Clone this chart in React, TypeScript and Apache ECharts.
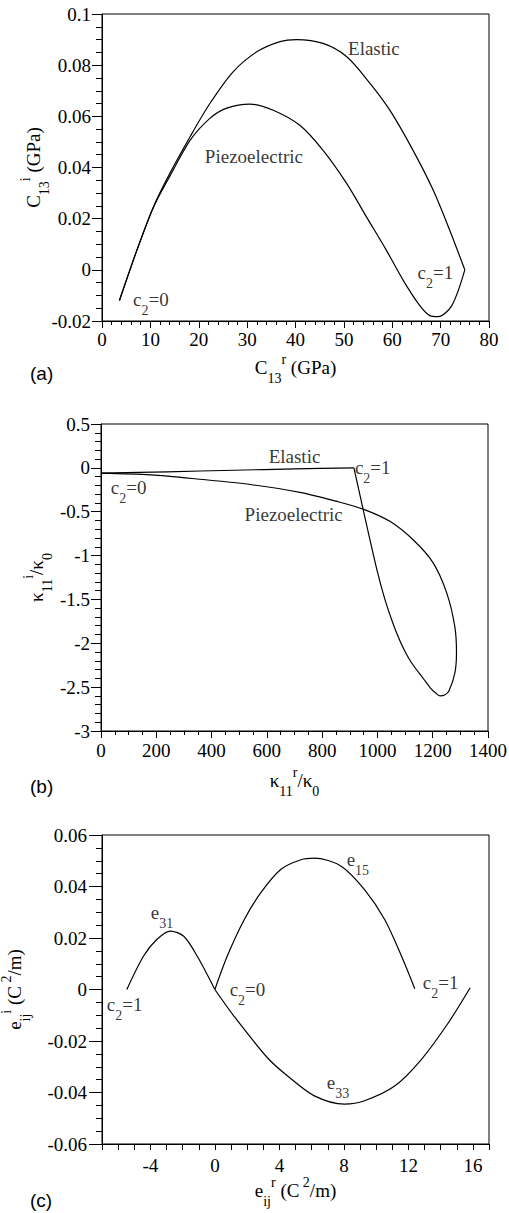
import React, { useEffect, useRef } from 'react';
import * as echarts from 'echarts';

// ---------- data ----------
// Panel (a): C13 imaginary vs real (GPa)
const aElastic: number[][] = [
  [3.6, -0.012], [7.2, 0.0076], [10.6, 0.0245], [14.0, 0.0376], [18.2, 0.052],
  [22.3, 0.065], [27.1, 0.0774], [32.0, 0.0852], [36.8, 0.0892], [40.2, 0.09],
  [45.7, 0.0885], [50.6, 0.0833], [55.4, 0.0729], [59.5, 0.0624], [64.3, 0.0467],
  [68.5, 0.031], [71.9, 0.0154], [75.0, 0.0],
];
const aPiezo: number[][] = [
  [3.6, -0.012], [7.2, 0.0076], [10.6, 0.0243], [14.0, 0.0365], [18.2, 0.0506],
  [22.3, 0.0592], [25.8, 0.0632], [30.6, 0.0648], [35.4, 0.0624], [40.9, 0.0565],
  [45.7, 0.0467], [50.6, 0.0337], [54.7, 0.0206], [58.8, 0.0076], [62.3, -0.0042],
  [65.7, -0.014], [67.8, -0.0179], [69.5, -0.0183], [72.3, -0.014], [75.0, 0.0],
];
// Panel (b): kappa11 imaginary vs real
const bElastic: number[][] = [
  [0, -0.06], [240, -0.045], [480, -0.027], [700, -0.012], [915, 0.0],
];
const bPiezo: number[][] = [
  [0, -0.06], [180, -0.08], [358, -0.13], [540, -0.19], [720, -0.28], [850, -0.38],
  [948, -0.47], [1045, -0.61], [1129, -0.82], [1201, -1.08], [1250, -1.42],
  [1280, -1.81], [1286, -2.11], [1280, -2.34], [1259, -2.54], [1243, -2.59],
  [1227, -2.6], [1212, -2.57], [1192, -2.51], [1168, -2.41], [1121, -2.21],
  [1087, -2.01], [1057, -1.78], [1027, -1.5], [998, -1.16], [948, -0.47], [915, 0.0],
];
// Panel (c): e_ij imaginary vs real
const cE31: number[][] = [
  [0, 0], [-1.1, 0.013], [-1.93, 0.0207], [-2.76, 0.0227], [-3.59, 0.0195],
  [-4.42, 0.013], [-5.46, 0.0],
];
const cE15: number[][] = [
  [0, 0], [0.77, 0.013], [1.81, 0.027], [2.85, 0.0376], [4.1, 0.0467], [5.34, 0.0504],
  [6.17, 0.051], [7.83, 0.0479], [9.28, 0.0388], [10.53, 0.0272], [11.57, 0.013], [12.4, 0.0003],
];
const cE33: number[][] = [
  [0, 0], [1.19, -0.0104], [3.26, -0.0265], [4.51, -0.0336], [6.17, -0.0413],
  [8.04, -0.0445], [9.28, -0.0432], [11.15, -0.0375], [12.8, -0.0272],
  [14.48, -0.0129], [15.83, 0.0007],
];

// annotation texts placed at data coordinates
const aNotes = [
  { name: '{m|Elastic}', value: [56.2, 0.0867] },
  { name: '{m|Piezoelectric}', value: [31.4, 0.0444] },
  { name: '{m|c}{s|2}{m|=0}', value: [10.1, -0.0116] },
  { name: '{m|c}{s|2}{m|=1}', value: [68.9, -0.001] },
];
const bNotes = [
  { name: '{m|Elastic}', value: [700, 0.128] },
  { name: '{m|Piezoelectric}', value: [697, -0.53] },
  { name: '{m|c}{s|2}{m|=0}', value: [100, -0.22] },
  { name: '{m|c}{s|2}{m|=1}', value: [983, 0.0] },
];
const cNotes = [
  { name: '{m|e}{s|31}', value: [-3.28, 0.0298] },
  { name: '{m|e}{s|15}', value: [8.87, 0.0504] },
  { name: '{m|e}{s|33}', value: [7.63, -0.0362] },
  { name: '{m|c}{s|2}{m|=0}', value: [2.02, 0.0] },
  { name: '{m|c}{s|2}{m|=1}', value: [14.0, 0.0027] },
  { name: '{m|c}{s|2}{m|=1}', value: [-5.6, -0.0058] },
];

const cXTickLabels = [-4, 0, 4, 8, 12, 16];

const titles = {
  ax: '{m|C}{s|13}{p|r}{m| (GPa)}',
  ay: '{m|C}{s|13}{p|i}{m| (GPa)}',
  bx: '{m|κ}{s|11}{p|r}{m|/κ}{s|0}',
  by: '{m|κ}{s|11}{p|i}{m|/κ}{s|0}',
  cx: '{m|e}{s|ij}{p|r}{m| (C}{p| 2}{m|/m)}',
  cy: '{m|e}{s|ij}{p|i}{m| (C}{p| 2}{m|/m)}',
};
const panelLetters = ['(a)', '(b)', '(c)'];

// ---------- styling ----------
const SERIF = '"Liberation Serif", "Times New Roman", serif';
const rich: any = {
  m: { fontFamily: SERIF, fontSize: 19, color: '#000', verticalAlign: 'middle' },
  s: { fontFamily: SERIF, fontSize: 14, color: '#000', verticalAlign: 'middle', padding: [22, 0, 0, 0] },
  p: { fontFamily: SERIF, fontSize: 14, color: '#000', verticalAlign: 'middle', padding: [0, 0, 15, 0] },
};

const fmt = (v: number) => String(Math.round(v * 10000) / 10000);

function axis(extra: any) {
  const { tickLen = 7, minorLen = 4, split = 5, margin = 9, labelFmt = fmt, ...rest } = extra;
  return {
    type: 'value',
    axisLine: { show: true, onZero: false, lineStyle: { color: '#000', width: 1 } },
    axisTick: { show: true, inside: false, length: tickLen, lineStyle: { color: '#000', width: 1 } },
    minorTick: { show: split > 0, splitNumber: split || 5, length: minorLen, lineStyle: { color: '#000', width: 1 } },
    splitLine: { show: false },
    minorSplitLine: { show: false },
    axisLabel: {
      show: true,
      color: '#000',
      fontFamily: SERIF,
      fontSize: 19,
      margin,
      formatter: labelFmt,
      hideOverlap: false,
    },
    nameLocation: 'middle',
    nameMoveOverlap: false,
    nameTextStyle: { rich },
    ...rest,
  };
}

function curve(data: number[][], idx: number) {
  return {
    type: 'line',
    data,
    xAxisIndex: idx,
    yAxisIndex: idx,
    showSymbol: false,
    symbol: 'none',
    smooth: 0.3,
    lineStyle: { color: '#000', width: 1.2 },
    silent: true,
  };
}

function notes(data: any[], idx: number) {
  return {
    type: 'scatter',
    data,
    xAxisIndex: idx,
    yAxisIndex: idx,
    symbolSize: 0,
    silent: true,
    label: {
      show: true,
      position: 'inside',
      formatter: (p: any) => p.name,
      rich,
    },
  };
}

export default function App() {
  const ref = useRef<HTMLDivElement>(null);
  useEffect(() => {
    document.body.style.margin = '0';
    if (!ref.current) return;
    const chart = echarts.init(ref.current, undefined, { renderer: 'svg' });
    const gridStyle = {
      show: true, borderColor: '#000', borderWidth: 1, backgroundColor: 'transparent',
      containLabel: false, outerBoundsMode: 'none',
    };
    chart.setOption({
      animation: false,
      backgroundColor: '#fff',
      textStyle: { fontFamily: SERIF, fontSize: 19, color: '#000' },
      grid: [
        { left: 102, top: 14, width: 387, height: 307, ...gridStyle },
        { left: 101, top: 424, width: 387, height: 307, ...gridStyle },
        { left: 102, top: 835, width: 387, height: 309, ...gridStyle },
      ],
      xAxis: [
        axis({ gridIndex: 0, min: 0, max: 80, interval: 10, split: 5, name: titles.ax, nameGap: 28 }),
        axis({ gridIndex: 1, min: 0, max: 1400, interval: 200, split: 4, name: titles.bx, nameGap: 31, margin: 10 }),
        axis({
          gridIndex: 2, min: -7, max: 17, interval: 1, split: 0, tickLen: 6, margin: 12,
          name: titles.cx, nameGap: 28,
          labelFmt: (v: number) => (cXTickLabels.indexOf(Math.round(v)) >= 0 ? String(Math.round(v)) : ''),
        }),
      ],
      yAxis: [
        axis({ gridIndex: 0, min: -0.02, max: 0.1, interval: 0.02, split: 4, tickLen: 10, minorLen: 6, margin: 11, name: titles.ay, nameRotate: 90, nameGap: 51 }),
        axis({ gridIndex: 1, min: -3, max: 0.5, interval: 0.5, split: 5, tickLen: 10, minorLen: 6, margin: 11, name: titles.by, nameRotate: 90, nameGap: 47 }),
        axis({ gridIndex: 2, min: -0.06, max: 0.06, interval: 0.02, split: 4, tickLen: 13, minorLen: 6, margin: 15, name: titles.cy, nameRotate: 90, nameGap: 70 }),
      ],
      series: [
        curve(aElastic, 0),
        curve(aPiezo, 0),
        curve(bElastic, 1),
        curve(bPiezo, 1),
        curve(cE31, 2),
        curve(cE15, 2),
        curve(cE33, 2),
        notes(aNotes, 0),
        notes(bNotes, 1),
        notes(cNotes, 2),
      ],
      graphic: panelLetters.map((t, i) => ({
        type: 'text',
        left: 30,
        top: [364, 777, 1191][i],
        style: { text: t, fontFamily: '"Liberation Sans", Arial, sans-serif', fontSize: 19, fill: '#000' },
      })),
    });
    return () => chart.dispose();
  }, []);
  return <div ref={ref} style={{ position: 'absolute', left: 0, top: 0, width: 509, height: 1213 }} />;
}
